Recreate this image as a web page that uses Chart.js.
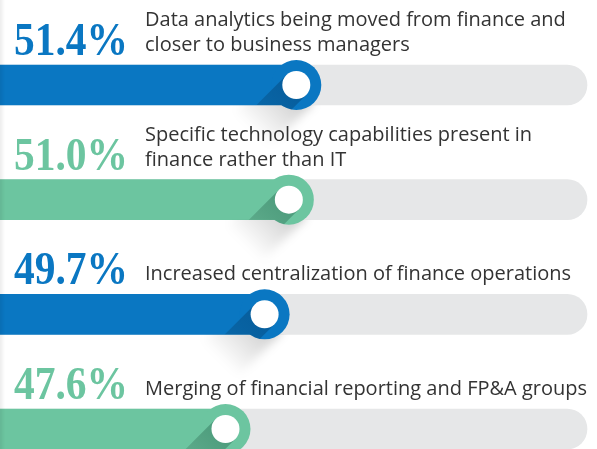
<!DOCTYPE html>
<html>
<head>
<meta charset="utf-8">
<script src="https://cdn.jsdelivr.net/npm/chart.js@4/dist/chart.umd.min.js"></script>
<style>
html,body{margin:0;padding:0;background:#fff;}
#wrap{position:relative;width:597px;height:449px;overflow:hidden;}
#edge{position:absolute;left:0;top:0;width:5px;height:449px;background:linear-gradient(to right,rgba(0,0,0,0.07),rgba(0,0,0,0));}
</style>
</head>
<body>
<div id="wrap"><canvas id="c" width="597" height="449"></canvas><div id="edge"></div></div>
<script>
// ---- data ----
const categories = [
  "Data analytics being moved from finance and closer to business managers",
  "Specific technology capabilities present in finance rather than IT",
  "Increased centralization of finance operations",
  "Merging of financial reporting and FP&A groups"
];
const labelLines = [
  ["Data analytics being moved from finance and", "closer to business managers"],
  ["Specific technology capabilities present in", "finance rather than IT"],
  ["Increased centralization of finance operations"],
  ["Merging of financial reporting and FP&A groups"]
];
const values = [51.4, 51.0, 49.7, 47.6];
const scaleMin = 35.5;
const scaleMax = 67;

// ---- styles ----
const BLUE = '#0a77c2', GREEN = '#6cc5a0', TRACK = '#e6e7e8';
const barColors = values.map((v, i) => i % 2 === 0 ? BLUE : GREEN);
const shadeColors = values.map((v, i) => i % 2 === 0 ? 'rgba(0,40,80,0.32)' : 'rgba(0,60,40,0.30)');

const knobPlugin = {
  id: 'knobs',
  afterDatasetsDraw(chart) {
    const ctx = chart.ctx;
    const meta = chart.getDatasetMeta(0);
    const left = chart.chartArea.left;
    meta.data.forEach((bar, i) => {
      const cx = bar.x, cy = bar.y, h = bar.height / 2;
      const ro = 25, ri = 14;
      const s = Math.SQRT1_2;
      // soft grey shadow below the bar
      ctx.save();
      ctx.beginPath();
      ctx.rect(0, cy + h, chart.width, 60);
      ctx.clip();
      ctx.filter = 'blur(5px)';
      const g1 = ctx.createLinearGradient(cx, cy, cx - 45, cy + 45);
      g1.addColorStop(0, 'rgba(0,0,0,0.22)');
      g1.addColorStop(1, 'rgba(0,0,0,0)');
      ctx.fillStyle = g1;
      ctx.beginPath();
      ctx.moveTo(cx + ro * s, cy + ro * s);
      ctx.lineTo(cx - ro * s, cy - ro * s);
      ctx.lineTo(cx - ro * s - 60, cy - ro * s + 60);
      ctx.lineTo(cx + ro * s - 60, cy + ro * s + 60);
      ctx.closePath();
      ctx.fill();
      ctx.restore();
      // ring
      ctx.save();
      ctx.fillStyle = barColors[i];
      ctx.beginPath();
      ctx.arc(cx, cy, ro, 0, Math.PI * 2);
      ctx.fill();
      // long shadow of the inner circle, clipped to bar + ring
      ctx.beginPath();
      ctx.rect(left, cy - h, cx - left, 2 * h);
      ctx.moveTo(cx + ro, cy);
      ctx.arc(cx, cy, ro, 0, Math.PI * 2);
      ctx.clip();
      const g2 = ctx.createLinearGradient(cx, cy, cx - 50, cy + 50);
      g2.addColorStop(0, shadeColors[i]);
      g2.addColorStop(1, 'rgba(0,0,0,0.05)');
      ctx.fillStyle = g2;
      ctx.beginPath();
      ctx.moveTo(cx + ri * s, cy + ri * s);
      ctx.lineTo(cx - ri * s, cy - ri * s);
      ctx.lineTo(cx - ri * s - 70, cy - ri * s + 70);
      ctx.lineTo(cx + ri * s - 70, cy + ri * s + 70);
      ctx.closePath();
      ctx.fill();
      ctx.restore();
      // white center
      ctx.save();
      ctx.fillStyle = '#ffffff';
      ctx.beginPath();
      ctx.arc(cx, cy, ri, 0, Math.PI * 2);
      ctx.fill();
      ctx.restore();

      // texts
      const top = cy - h;
      ctx.save();
      ctx.textBaseline = 'alphabetic';
      ctx.textAlign = 'left';
      ctx.fillStyle = barColors[i];
      ctx.font = 'bold 46px "Liberation Serif"';
      ctx.fillText(values[i].toFixed(1) + '%', 14, top - 10, 114);
      ctx.fillStyle = '#333333';
      ctx.font = '20px "Open Sans"';
      const lines = labelLines[i];
      lines.forEach((ln, k) => {
        ctx.fillText(ln, 145, top - 14 - (lines.length - 1 - k) * 25, 442);
      });
      ctx.restore();
    });
  }
};

new Chart(document.getElementById('c'), {
  type: 'bar',
  data: {
    labels: categories,
    datasets: [
      {
        data: values,
        backgroundColor: barColors,
        barThickness: 40,
        grouped: false,
        order: 0,
        clip: false,
        borderWidth: 0
      },
      {
        data: values.map(() => scaleMax),
        backgroundColor: TRACK,
        barThickness: 40,
        grouped: false,
        order: 1,
        clip: false,
        borderWidth: 0,
        borderRadius: 20
      }
    ]
  },
  options: {
    indexAxis: 'y',
    responsive: false,
    animation: false,
    layout: { padding: { left: 0, right: 10, top: 85, bottom: 20 } },
    scales: {
      x: { type: 'linear', min: scaleMin, max: scaleMax, display: false },
      y: { type: 'category', offset: false, display: false }
    },
    plugins: { legend: { display: false }, tooltip: { enabled: false } }
  },
  plugins: [knobPlugin]
});
</script>
</body>
</html>
